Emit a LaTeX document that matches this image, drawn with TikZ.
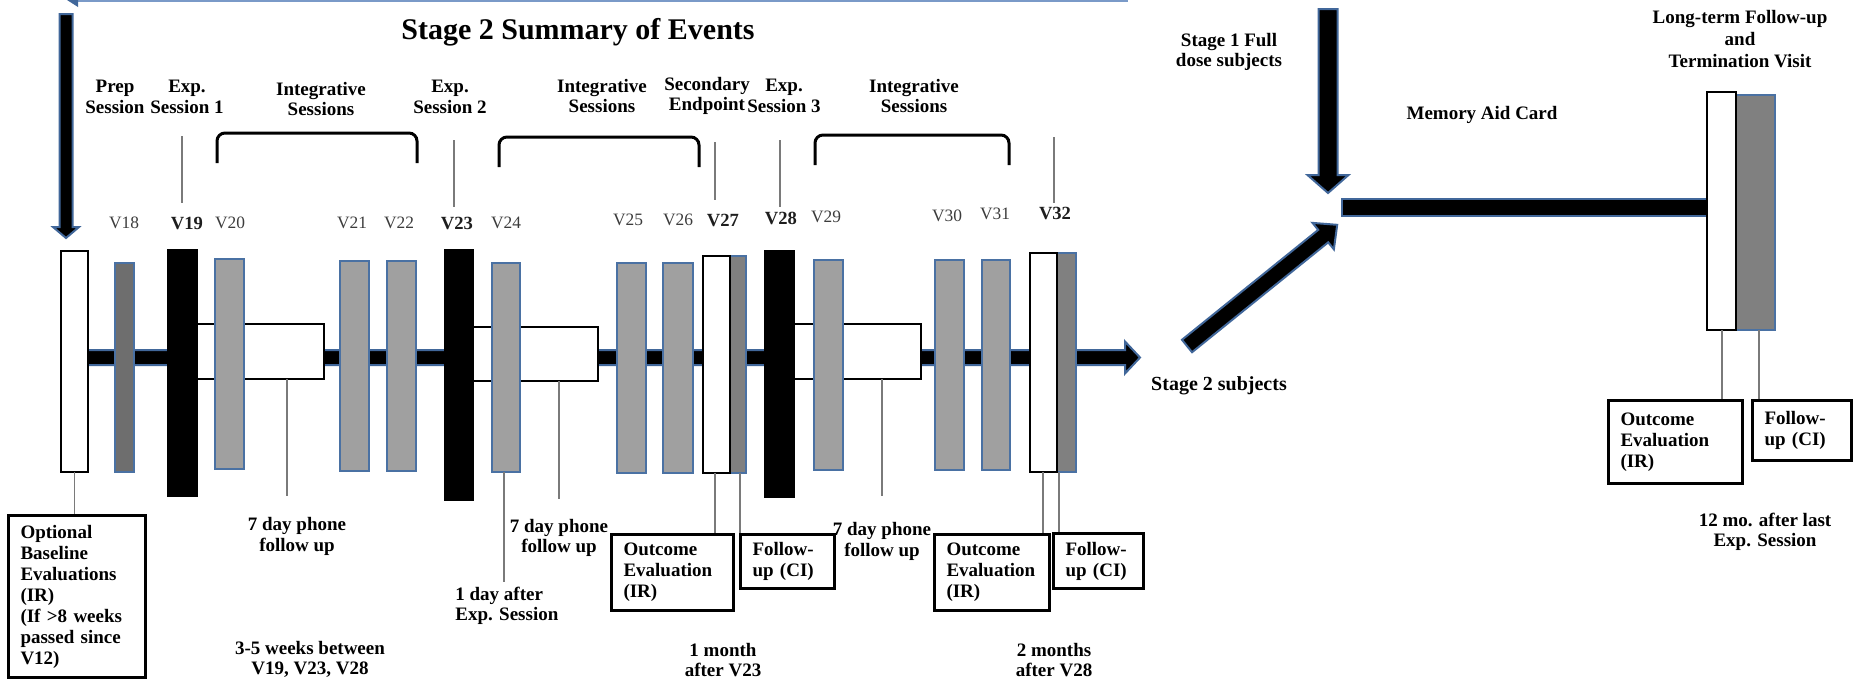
\documentclass[tikz,border=0pt]{standalone}
\usepackage{fontspec}
\setmainfont{Liberation Serif}
\definecolor{barblue}{HTML}{4A71A3}
\definecolor{arrblue}{HTML}{41679A}
\definecolor{topblue}{HTML}{7A9AC8}
\definecolor{igray}{HTML}{A0A0A0}
\definecolor{pgray}{HTML}{6E6E6E}
\definecolor{fgray}{HTML}{808080}
\definecolor{tickgray}{HTML}{7A7A7A}
\definecolor{vtext}{HTML}{3C3C3C}
\newcommand\rbox[6]{\node[#1, anchor=north west, inner sep=0pt, outer sep=0pt, minimum width={(#5-#3)*0.5pt}, minimum height={(#6-#4)*0.5pt}] (#2) at (#3,#4) {};}
\newcommand\fatarrow[7]{\begin{scope}[shift={(#1,#2)},rotate=#3]\filldraw[fat] (0,-#5) -- ({#4-#7},-#5) -- ({#4-#7},-#6) -- (#4,0) -- ({#4-#7},#6) -- ({#4-#7},#5) -- (0,#5) -- cycle;\end{scope}}
\begin{document}
\begin{tikzpicture}[x=0.5pt,y=-0.5pt,
  fat/.style={fill=black, draw=arrblue, line width=1pt, line join=miter},
  whitebar/.style={draw=black, fill=white, line width=1.25pt},
  graybar/.style={draw=barblue, fill=igray, line width=1pt},
  prepbar/.style={draw=barblue, fill=pgray, line width=1pt},
  fubar/.style={draw=barblue, fill=fgray, line width=1pt},
  expbar/.style={draw=black, fill=black, line width=0.5pt},
  fbox/.style={draw=black, fill=white, line width=1.25pt},
  lbl/.style={font=\fontsize{9.5}{10.3}\selectfont\bfseries, align=center, inner sep=0pt},
  vlab/.style={font=\fontsize{8.7}{10}\selectfont, text=vtext, inner sep=0pt},
  vlabb/.style={font=\fontsize{9.3}{10}\selectfont\bfseries, text=vtext!50!black, inner sep=0pt},
  txtbox/.style={draw=black, fill=white, line width=1.5pt, font=\fontsize{9.5}{10.5}\selectfont\bfseries, align=left, inner ysep=0pt, inner xsep=6pt, anchor=north west},
  tick/.style={draw=tickgray, line width=0.6pt},
  brace/.style={draw=black, line width=1.5pt, rounded corners=4pt}
]
\useasboundingbox (0,0) rectangle (1866,681);

% top thin line (cropped arrow)
\draw[topblue, line width=1pt] (71,1) -- (1128,1);
\fill[arrblue] (67,0) -- (78,0) -- (78,7) -- cycle;

% title
\node[font=\fontsize{15}{17}\selectfont\bfseries, inner sep=0pt] (title) at (578,32) {Stage 2 Summary of Events};

% fat arrows
\fatarrow{66}{14}{-90}{224}{6.5}{13}{11}
\fatarrow{1328}{9}{-90}{184}{9.5}{20.5}{18}
\fatarrow{1187}{346}{38.9}{193}{8}{17}{18}
\fatarrow{80}{357.5}{0}{1060}{7.5}{16}{15}
\filldraw[fat] (1342,199) rectangle (1707,216);

% white follow-up boxes behind bars
\rbox{fbox}{fb1}{197}{324}{324}{379}
\rbox{fbox}{fb2}{473}{327}{598}{381}
\rbox{fbox}{fb3}{794}{324}{921}{379}

% bars
\rbox{whitebar}{base}{61}{251}{88}{472}
\rbox{prepbar}{b18}{115}{263}{134}{472}
\rbox{expbar}{b19}{167}{249}{197}{496}
\rbox{graybar}{b20}{215}{259}{244}{469}
\rbox{graybar}{b21}{340}{261}{369}{471}
\rbox{graybar}{b22}{387}{261}{416}{471}
\rbox{expbar}{b23}{444}{249}{473}{500}
\rbox{graybar}{b24}{492}{263}{520}{472}
\rbox{graybar}{b25}{617}{263}{646}{473}
\rbox{graybar}{b26}{663}{263}{693}{473}
\rbox{fubar}{b27g}{730}{256}{746}{473}
\rbox{whitebar}{b27w}{703}{256}{730}{473}
\rbox{expbar}{b28}{764}{250}{794}{497}
\rbox{graybar}{b29}{814}{260}{843}{470}
\rbox{graybar}{b30}{935}{260}{964}{470}
\rbox{graybar}{b31}{982}{260}{1010}{470}
\rbox{fubar}{b32g}{1057}{253}{1076}{472}
\rbox{whitebar}{b32w}{1030}{253}{1057}{472}
\rbox{fubar}{ltg}{1736}{95}{1775}{330}
\rbox{whitebar}{ltw}{1707}{92}{1736}{330}

% brackets
\draw[brace] (217,163) -- (217,133) -- (417,133) -- (417,163);
\draw[brace] (499,167) -- (499,137) -- (699,137) -- (699,167);
\draw[brace] (815,165) -- (815,135) -- (1009,135) -- (1009,165);

% top labels
\node[lbl] (prep) at (115,97) {Prep\\Session};
\node[lbl] (exp1) at (187,97) {Exp.\\Session 1};
\node[lbl] (int1) at (321,99) {Integrative\\Sessions};
\node[lbl] (exp2) at (450,97) {Exp.\\Session 2};
\node[lbl] (int2) at (602,96) {Integrative\\Sessions};
\node[lbl] (sec) at (707,96) {Secondary\\Endpoint};
\node[lbl] (exp3) at (784,96) {Exp.\\Session 3};
\node[lbl] (int3) at (914,96) {Integrative\\Sessions};
\node[lbl] (stage1) at (1229,52) {Stage 1 Full\\dose subjects};
\node[lbl] (memcard) at (1482,115) {Memory Aid Card};
\node[lbl, font=\fontsize{9.5}{11.2}\selectfont\bfseries] (longterm) at (1740,39) {Long-term Follow-up\\and\\Termination Visit};
\node[lbl, font=\fontsize{10}{11}\selectfont\bfseries] (stage2) at (1219,386) {Stage 2 subjects};

% V labels
\node[vlab] (v18) at (124,223) {V18};
\node[vlabb] (v19) at (187,223) {V19};
\node[vlab] (v20) at (230,223) {V20};
\node[vlab] (v21) at (352,223) {V21};
\node[vlab] (v22) at (399,223) {V22};
\node[vlabb] (v23) at (457,223) {V23};
\node[vlab] (v24) at (506,223) {V24};
\node[vlab] (v25) at (628,220) {V25};
\node[vlab] (v26) at (678,220) {V26};
\node[vlabb] (v27) at (723,220) {V27};
\node[vlabb] (v28) at (781,218) {V28};
\node[vlab] (v29) at (826,217) {V29};
\node[vlab] (v30) at (947,216) {V30};
\node[vlab] (v31) at (995,214) {V31};
\node[vlabb] (v32) at (1055,213) {V32};

% top ticks
\draw[tick] (182,136) -- (182,203);
\draw[tick] (454,140) -- (454,207);
\draw[tick] (715,142) -- (715,200);
\draw[tick] (780,140) -- (780,207);
\draw[tick] (1054,137) -- (1054,203);

% text boxes
\node[txtbox, text width=56.5pt, minimum height=81pt] (opt) at (7,514) {Optional\\Baseline\\Evaluations\\(IR)\\(If >8 weeks\\passed since\\V12)};
\node[txtbox, text width=49pt, minimum height=38pt] (out1) at (610,533) {Outcome\\Evaluation\\(IR)};
\node[txtbox, text width=35pt, minimum height=27pt] (fol1) at (739,533) {Follow-\\up (CI)};
\node[txtbox, text width=45.5pt, minimum height=38pt] (out2) at (933,533) {Outcome\\Evaluation\\(IR)};
\node[txtbox, text width=33pt, minimum height=27.5pt] (fol2) at (1052,532) {Follow-\\up (CI)};
\node[txtbox, text width=55pt, minimum height=41.5pt] (out3) at (1607,399) {Outcome\\Evaluation\\(IR)};
\node[txtbox, text width=37.5pt, minimum height=30pt] (fol3) at (1751,399) {Follow-\\up (CI)};

% bottom labels
\node[lbl] (ph1) at (297,536.5) {7 day phone\\follow up};
\node[lbl] (ph2) at (559,538) {7 day phone\\follow up};
\node[lbl] (ph3) at (882,541.5) {7 day phone\\follow up};
\node[lbl, align=left, anchor=west] (oneday) at (455,606) {1 day after\\Exp. Session};
\node[lbl] (weeks) at (310,659.5) {3-5 weeks between\\V19, V23, V28};
\node[lbl] (month1) at (723,660) {1 month\\after V23};
\node[lbl] (month2) at (1054,660) {2 months\\after V28};
\node[lbl] (twelve) at (1765,532) {12 mo. after last\\Exp. Session};

% bottom ticks
\draw[tick] (base.south) -- (base.south |- opt.north);
\draw[tick] (287,379) -- (287,496);
\draw[tick] (504,472) -- (504,582);
\draw[tick] (559,381) -- (559,499);
\draw[tick] (715,473) -- (715,533);
\draw[tick] (740,473) -- (740,533);
\draw[tick] (882,379) -- (882,496);
\draw[tick] (1043,472) -- (1043,533);
\draw[tick] (1059,472) -- (1059,532);
\draw[tick] (1722,330) -- (1722,399);
\draw[tick] (1759,330) -- (1759,399);
\end{tikzpicture}
\end{document}
